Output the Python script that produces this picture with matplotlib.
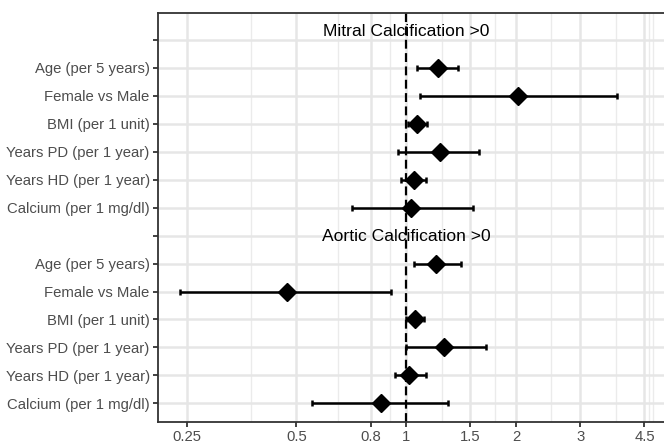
import matplotlib
matplotlib.use("Agg")
import matplotlib.pyplot as plt
import numpy as np

plt.rcParams['font.family'] = ['Liberation Sans', 'DejaVu Sans']

# rows from top to bottom; empty strings are the section header rows
row_labels = ["", "Age (per 5 years)", "Female vs Male", "BMI (per 1 unit)",
              "Years PD (per 1 year)", "Years HD (per 1 year)", "Calcium (per 1 mg/dl)",
              "", "Age (per 5 years)", "Female vs Male", "BMI (per 1 unit)",
              "Years PD (per 1 year)", "Years HD (per 1 year)", "Calcium (per 1 mg/dl)"]

# odds ratios and 95% CI (None for header rows)
est = [None, 1.22, 2.03, 1.07, 1.24, 1.05, 1.03,
       None, 1.21, 0.47, 1.06, 1.27, 1.02, 0.85]
lo = [None, 1.07, 1.09, 1.01, 0.95, 0.97, 0.71,
      None, 1.05, 0.24, 1.00, 1.00, 0.93, 0.55]
hi = [None, 1.39, 3.78, 1.14, 1.58, 1.13, 1.52,
      None, 1.41, 0.91, 1.12, 1.65, 1.13, 1.30]

section_titles = ["Mitral Calcification >0", "Aortic Calcification >0"]
section_rows = [0, 7]

x_breaks = [0.25, 0.5, 0.8, 1, 1.5, 2, 3, 4.5]
x_break_labels = ["0.25", "0.5", "0.8", "1", "1.5", "2", "3", "4.5"]
x_minor = [0.375, 0.65, 0.9, 1.25, 1.75, 2.5, 3.75, 4.63, 4.76]

fig = plt.figure(figsize=(6.64, 4.44), dpi=100)
ax = fig.add_axes([158 / 664, 22.3 / 444, 1 - 158 / 664, (421.7 - 13) / 444])

ax.set_xscale('log')
ax.set_xlim(0.2086, 5.09)
ax.set_ylim(len(row_labels) - 1 + 0.657, -0.964)

# grid
for xm in x_minor:
    ax.axvline(xm, color='#EBEBEB', lw=1.0, zorder=0)
for xb in x_breaks:
    ax.axvline(xb, color='#E6E6E6', lw=1.8, zorder=0)
for i in range(len(row_labels)):
    ax.axhline(i, color='#E6E6E6', lw=1.8, zorder=0)

ax.axvline(1, color='black', lw=1.6, linestyle=(0, (4, 2)), zorder=2)

ypos = [i for i, e in enumerate(est) if e is not None]
e_vals = np.array([est[i] for i in ypos])
lo_vals = np.array([lo[i] for i in ypos])
hi_vals = np.array([hi[i] for i in ypos])
ax.errorbar(e_vals, ypos, xerr=[e_vals - lo_vals, hi_vals - e_vals], fmt='none',
            ecolor='black', elinewidth=1.8, capsize=2, capthick=1.8, zorder=3)
ax.plot(e_vals, ypos, 'D', color='black', markersize=9, zorder=4)

ax.text(1, section_rows[0] - 0.32, section_titles[0], ha='center', va='center',
        fontsize=12.6, color='black', zorder=5)
ax.text(1, section_rows[1] + 0.02, section_titles[1], ha='center', va='center',
        fontsize=12.6, color='black', zorder=5)

ax.set_yticks(range(len(row_labels)))
ax.set_yticklabels(row_labels)
ax.set_xticks(x_breaks)
ax.set_xticklabels(x_break_labels)
ax.xaxis.set_minor_locator(matplotlib.ticker.NullLocator())
ax.tick_params(axis='both', colors='#333333', labelcolor='#4D4D4D', labelsize=10.7,
               length=3.5, width=1.3, pad=2.5)

for side in ['left', 'bottom', 'top']:
    ax.spines[side].set_color('#333333')
    ax.spines[side].set_linewidth(1.3)
ax.spines['right'].set_visible(False)

fig.savefig("out.png", dpi=100)
